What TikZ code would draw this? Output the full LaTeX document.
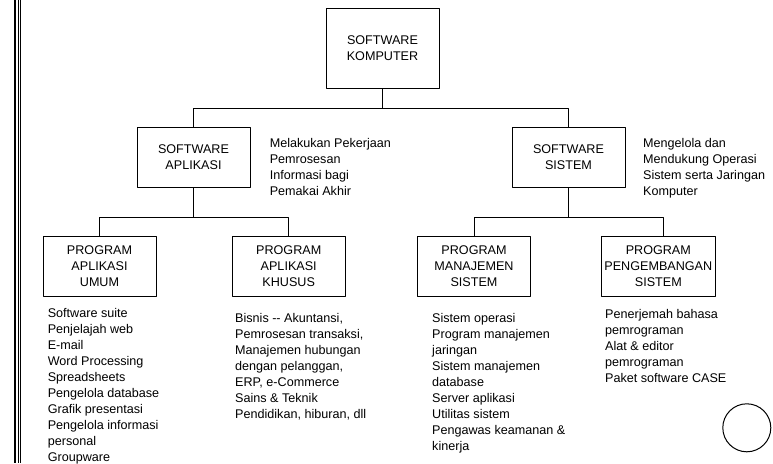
\documentclass[tikz,border=0pt]{standalone}
\usepackage{fontspec}
\setmainfont{Liberation Sans}
\begin{document}
\begin{tikzpicture}[x=1pt, y=-1pt, line join = round, line width=1pt,
	font=\fontsize{12.6}{16}\selectfont,
	kotak/.style={draw, align=center, minimum width=113, minimum height=59.5, inner sep=0},
	ket/.style={anchor=base west, align=left, inner sep=0}]
	\useasboundingbox (0,0) rectangle (773,463);
	%\tikzset{ket/.style={font=\small}}
	\draw[line width=2] (15,0) -- (15,463);
	\draw[line width=0.8] (18,0) -- (18,463);
	\draw[line width=1.6] (20.5,0) -- (20.5,463);
	\node[kotak, minimum height=80] (komputer) at (382.5,48) {SOFTWARE\\KOMPUTER};
	\node[kotak] (aplikasi) at (193.5,157.5) {SOFTWARE\\APLIKASI};
	\node[kotak] (sistem) at (568.5,157.5) {SOFTWARE\\SISTEM};
	\node[kotak] (umum) at (99.5,266.5) {PROGRAM\\APLIKASI\\UMUM};
	\node[kotak] (khusus) at (288.7,266.5) {PROGRAM\\APLIKASI\\KHUSUS};
	\node[kotak] (manajemen) at (474,266.5) {PROGRAM\\MANAJEMEN\\SISTEM};
	\node[kotak, minimum width=114] (pengembangan) at (658.3,266.5) {PROGRAM\\PENGEMBANGAN\\SISTEM};
	\draw (komputer.south) -- ++(0,20) coordinate (c1);
	\draw (aplikasi.north) |- (c1) -| (sistem.north);
	\draw (aplikasi.south) -- ++(0,29.5) coordinate (c2);
	\draw (umum.north) |- (c2) -| (khusus.north);
	\draw (sistem.south) -- ++(0,29.5) coordinate (c3);
	\draw (manajemen.north) |- (c3) -| ([xshift=5pt]pengembangan.north);
	% base = baseline of the last line
	\node[ket] (ketaplikasi) at (269.3,195.5) {Melakukan Pekerjaan\\Pemrosesan\\Informasi bagi\\Pemakai Akhir};
	\node[ket] (ketsistem) at (642.7,195.5) {Mengelola dan\\Mendukung Operasi\\Sistem serta Jaringan\\Komputer};
	\node[ket] (isiumum) at (47.3,461.5) {Software suite\\Penjelajah web\\E-mail\\Word Processing\\Spreadsheets\\Pengelola database\\Grafik presentasi\\Pengelola informasi\\personal\\Groupware};
	\node[ket] (isikhusus) at (234.7,418) {Bisnis -{}- Akuntansi,\\Pemrosesan transaksi,\\Manajemen hubungan\\dengan pelanggan,\\ERP, e-Commerce\\Sains \& Teknik\\Pendidikan, hiburan, dll};
	\node[ket] (isimanajemen) at (431.7,450) {Sistem operasi\\Program manajemen\\jaringan\\Sistem manajemen\\database\\Server aplikasi\\Utilitas sistem\\Pengawas keamanan \&\\kinerja};
	\node[ket] (isipengembangan) at (604.7,382) {Penerjemah bahasa\\pemrograman\\Alat \& editor\\pemrograman\\Paket software CASE};
	\node[draw, circle, minimum size=48, inner sep=0] (bulat) at (746.8,427.8) {};
\end{tikzpicture}
\end{document}
